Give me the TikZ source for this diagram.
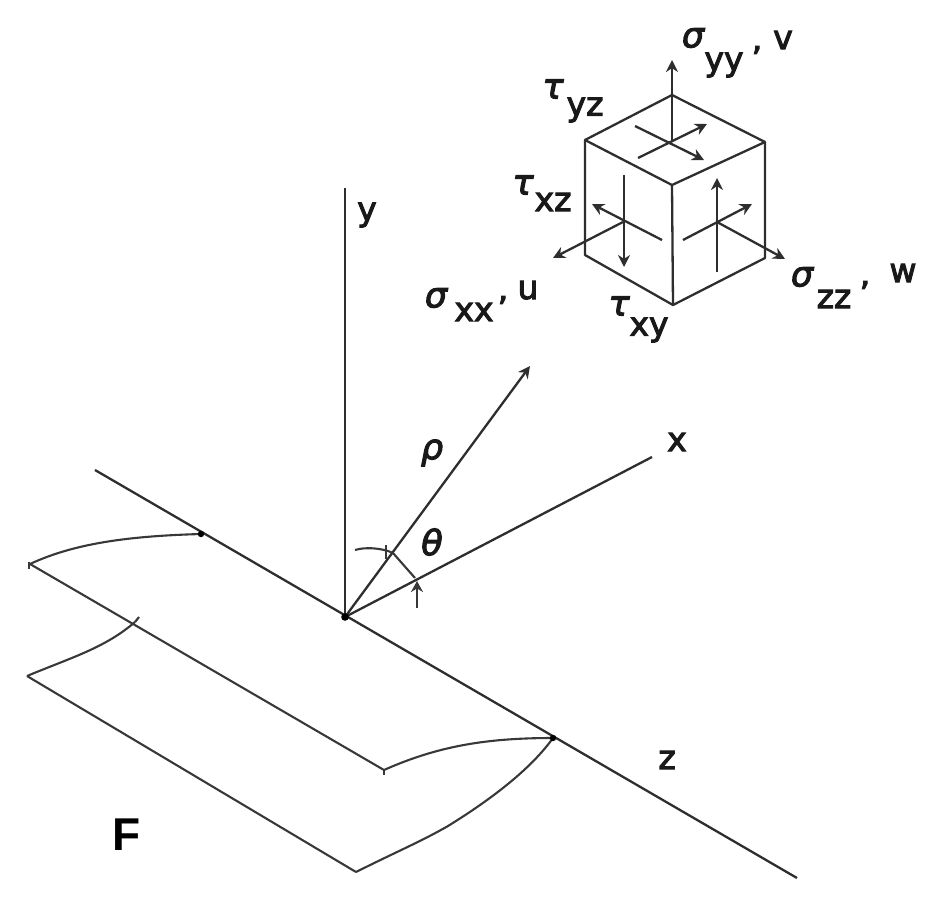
\documentclass[tikz,border=0pt]{standalone}
\usepackage{fontspec}
\setmainfont{DejaVu Sans}
\newfontfamily\boldish[FakeBold=3]{DejaVu Sans}
\newfontfamily\boldishit[FakeBold=3,ItalicFont={DejaVu Sans Oblique}]{DejaVu Sans}
\newfontfamily\fbold{Liberation Sans}
\usetikzlibrary{arrows.meta}
\tikzset{
  ln/.style={line width=2.3pt,color=black!82},
  arr/.style={ln,-{Stealth[length=12pt,width=12pt]}},
  lab/.style={inner sep=0pt,font=\fontsize{33}{34}\selectfont\boldish,text=black!90},
  gk/.style={inner sep=0pt,font=\fontsize{35}{35}\selectfont\boldishit\itshape,text=black!90},
  thn/.style={line width=2.1pt,color=black!78}
}
\begin{document}
\begin{tikzpicture}[x=1pt,y=-1pt]
\useasboundingbox (0,0) rectangle (950,911);
% axes
\coordinate (O) at (345,617);
\coordinate (ytop) at (345,188);
\coordinate (zs) at (95,470);
\coordinate (ze) at (797,878);
\coordinate (xe) at (652,457);
\coordinate (rho) at (530,366);
\draw[ln] (O) -- (ytop);
\draw[ln] (zs) -- (ze);
\draw[ln] (O) -- (xe);
\draw[arr] (O) -- (rho);
\fill (O) circle (3.8pt);
% angle arcs
\coordinate (a1) at (355,550);
\coordinate (a2) at (388,551);
\coordinate (a3) at (415,578);
\coordinate (a4) at (417,608);
\draw[thn] (a1) .. controls (365,547) and (378,548) .. (a2);
\draw[thn] (a2) -- (393,553) -- (a3);
\draw[thn,-{Stealth[length=11pt,width=12pt]}] (a4) -- (417,581);
\draw[thn] (386,545) -- (386,559);
% wing plates
\coordinate (p1) at (201,534);
\coordinate (p2) at (30,564);
\coordinate (p3) at (384,770);
\coordinate (p4) at (553,738);
\coordinate (p5) at (135,622);
\coordinate (p6) at (27,676);
\coordinate (p7) at (356,872);
\draw[thn] (p1) .. controls (130,536) and (75,543) .. (p2);
\draw[thn] (p2) -- (p3);
\draw[thn] (p3) .. controls (440,745) and (490,738) .. (p4);
\draw[thn] (p5) .. controls (105,648) and (70,658) .. (p6);
\draw[thn] (p6) -- (p7);
\draw[thn] (p7) .. controls (400,850) and (420,842) .. (448,826) .. controls (490,800) and (530,770) .. (p4);
\draw[thn] (384,770) -- (384,775);
\draw[thn] (29,562) -- (29,569);
\draw[thn] (135,622) -- (139,617);
\fill (p1) circle (3.2pt);
\fill (p4) circle (3.2pt);
% cube
\coordinate (ct) at (672,95);
\coordinate (cl) at (585,140);
\coordinate (cr) at (765,142);
\coordinate (cf) at (672,185);
\coordinate (cb) at (673,305);
\coordinate (clb) at (585,255);
\coordinate (crb) at (765,258);
\draw[ln,line join=round] (ct) -- (cl) -- (cf) -- (cr) -- cycle;
\draw[ln,line join=round] (cl) -- (clb) -- (cb) -- (crb) -- (cr);
\draw[ln] (cf) -- (cb);
% top face arrows
\coordinate (tc) at (672,142);
\draw[arr] (tc) -- (672,60);
\draw[arr] (635,126) -- (704,160);
\draw[arr] (638,158) -- (707,124);
% left face arrows
\coordinate (lc) at (623,222);
\draw[arr] (624,175) -- (624,267);
\draw[arr] (662,240) -- (592,204);
\draw[arr] (lc) -- (553,258);
% right face arrows
\coordinate (rc) at (717,222);
\draw[arr] (717,272) -- (717,178);
\draw[arr] (683,240) -- (752,204);
\draw[arr] (rc) -- (785,259);
% labels
\node[lab] (ly) at (367,215) {y};
\node[lab] (lx) at (677,442) {x};
\node[lab] (lz) at (667,760) {z};
\node[gk] (lrho) at (432,453) {ρ};
\node[gk] (lth) at (432,542) {θ};
\node[gk] (s1) at (693,38) {σ};
\node[lab] (s1b) at (724,65) {yy};
\node[lab] (s1c) at (757,50) {,};
\node[lab] (s1d) at (783,40) {v};
\node[gk] (s2) at (436,298) {σ};
\node[lab] (s2b) at (474,312) {xx};
\node[lab] (s2c) at (503,300) {,};
\node[lab] (s2d) at (528,290) {u};
\node[gk] (s3) at (802,277) {σ};
\node[lab] (s3b) at (834,299) {zz};
\node[lab] (s3c) at (865,285) {,};
\node[lab] (s3d) at (903,273) {w};
\node[gk] (t1) at (553,89) {τ};
\node[lab] (t1b) at (585,110) {yz};
\node[gk] (t2) at (523,185) {τ};
\node[lab] (t2b) at (553,202) {xz};
\node[gk] (t3) at (619,306) {τ};
\node[lab] (t3b) at (649,330) {xy};
\node[inner sep=0pt,font=\fontsize{46}{46}\selectfont\fbold\bfseries] (lF) at (127,835) {F};
\end{tikzpicture}
\end{document}
